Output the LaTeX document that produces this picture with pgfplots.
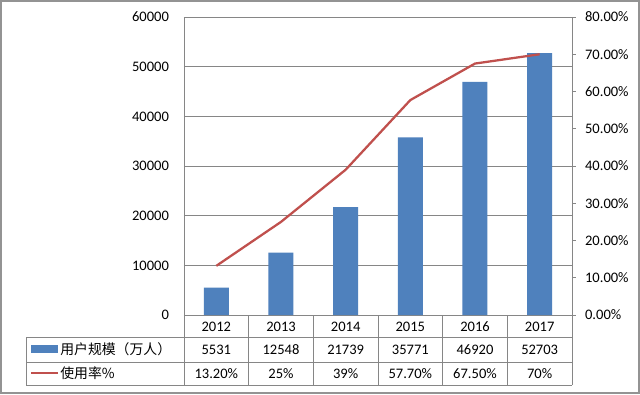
\documentclass[border=0pt]{standalone}
\usepackage{pgfplots}
\pgfplotsset{compat=1.18}
\usepackage{fontspec}
\setmainfont{Carlito}
\newfontfamily\cjk{Noto Sans CJK SC}
\definecolor{barblue}{HTML}{4F81BD}
\definecolor{linered}{HTML}{C0504D}
\definecolor{gridgray}{HTML}{868686}
\begin{document}
\fontsize{10.9}{13}\selectfont
\begin{tikzpicture}
\begin{scope}[x=0.75pt,y=-0.75pt]
\fill[white] (0,0) rectangle (640,394);
\draw[gray!85, line width=1.4pt] (1,1) rectangle (639,393);
\draw[gridgray, line width=0.6pt] (26,337) -- (572,337) (26,362) -- (572,362) (26,385) -- (572,385) (26,337) -- (26,385);
\foreach \i in {0,...,6} \draw[gridgray, line width=0.6pt] ({184+64.667*\i},315) -- ({184+64.667*\i},385);
\foreach \yr/\v/\r [count=\i from 0] in {2012/5531/13.20\%,2013/12548/25\%,2014/21739/39\%,2015/35771/57.70\%,2016/46920/67.50\%,2017/52703/70\%}{
  \node[inner sep=0pt] at ({184+64.667*(\i+0.5)},326.5) {\yr};
  \node[inner sep=0pt] at ({184+64.667*(\i+0.5)},349.5) {\v};
  \node[inner sep=0pt] at ({184+64.667*(\i+0.5)},374) {\r};
}
\fill[barblue] (31,345) rectangle (58,353);
\draw[linered, line width=1.7pt] (31,373) -- (58,373);
\node[anchor=west, inner sep=0pt] at (60,349.5) {\cjk\fontsize{10.4}{12}\selectfont 用户规模（万人）};
\node[anchor=west, inner sep=0pt] at (60,373.5) {\cjk\fontsize{10.4}{12}\selectfont 使用率\%};
\end{scope}
\begin{axis}[
  at={(138pt,-236.25pt)}, anchor=south west,
  scale only axis, width=291pt, height=223.5pt,
  xmin=-0.5, xmax=5.5, ymin=0, ymax=60000,
  xtick=\empty,
  ytick={0,10000,...,60000},
  ymajorgrids, grid style={gridgray, line width=0.6pt},
  axis line style={gridgray, line width=0.6pt},
  major tick length=0pt,
  yticklabel style={/pgf/number format/1000 sep={}, /pgf/number format/assume math mode=true, xshift=-7.5pt, font=\fontsize{10.9}{13}\selectfont},
  scaled y ticks=false,
]
\addplot[ybar, bar width=18.75pt, fill=barblue, draw=none] coordinates {(0,5531) (1,12548) (2,21739) (3,35771) (4,46920) (5,52703)};
\end{axis}
\begin{axis}[
  at={(138pt,-236.25pt)}, anchor=south west,
  scale only axis, width=291pt, height=223.5pt,
  xmin=-0.5, xmax=5.5, ymin=0, ymax=80,
  axis x line=none, axis y line*=right,
  axis line style={gridgray, line width=0.6pt},
  ytick={0,10,...,80},
  yticklabels={0.00\%,10.00\%,20.00\%,30.00\%,40.00\%,50.00\%,60.00\%,70.00\%,80.00\%},
  tick align=outside, major tick length=3pt,
  tick style={gridgray, line width=0.6pt},
  yticklabel style={font=\fontsize{10.9}{13}\selectfont, xshift=3pt},
]
\addplot[linered, line width=1.7pt, mark=none] coordinates {(0,13.2) (1,25) (2,39) (3,57.7) (4,67.5) (5,70)};
\end{axis}
\end{tikzpicture}
\end{document}
